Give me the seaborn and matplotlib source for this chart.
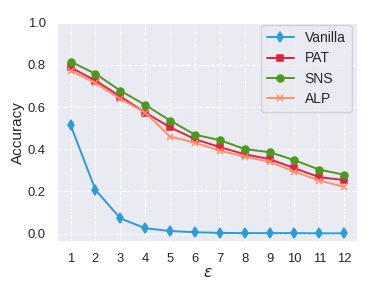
import matplotlib
matplotlib.use("Agg")
import matplotlib.pyplot as plt
import seaborn as sns

# --- data ----------------------------------------------------------------
EPS = [1, 2, 3, 4, 5, 6, 7, 8, 9, 10, 11, 12]
VANILLA = [0.515, 0.207, 0.072, 0.025, 0.012, 0.006, 0.003, 0.002, 0.002, 0.002, 0.001, 0.001]
PAT = [0.788, 0.726, 0.650, 0.574, 0.504, 0.448, 0.410, 0.376, 0.353, 0.310, 0.267, 0.254]
SNS = [0.816, 0.758, 0.678, 0.610, 0.536, 0.469, 0.443, 0.401, 0.386, 0.348, 0.303, 0.279]
ALP = [0.773, 0.714, 0.639, 0.574, 0.460, 0.431, 0.393, 0.365, 0.340, 0.294, 0.251, 0.222]

SERIES = [
    ("Vanilla", VANILLA, "#2a9dd8", "d"),
    ("PAT", PAT, "#df233f", "s"),
    ("SNS", SNS, "#4a9a1c", "o"),
    ("ALP", ALP, "#ff9068", "x"),
]

sns.set_theme(style="darkgrid", rc={"grid.linestyle": "--", "grid.linewidth": 0.8})
plt.rcParams["font.family"] = ["Liberation Sans", "DejaVu Sans"]

fig, ax = plt.subplots(figsize=(3.82, 2.85), dpi=100)
fig.subplots_adjust(left=0.149, right=0.937, top=0.920, bottom=0.151)

for name, vals, color, marker in SERIES:
    sns.lineplot(x=EPS, y=vals, label=name, color=color, marker=marker,
                 markersize=5, markeredgewidth=1.1, markeredgecolor=color,
                 linewidth=1.4, ax=ax)

ax.set_xticks(EPS)
ax.set_yticks([0.0, 0.2, 0.4, 0.6, 0.8, 1.0])
ax.set_ylim(-0.04, 1.0)
ax.set_xlim(0.45, 12.55)
ax.tick_params(labelsize=9.4, pad=2)
ax.set_xlabel(r"$\epsilon$", fontsize=11, labelpad=1)
ax.set_ylabel("Accuracy", fontsize=11, labelpad=2)

ax.legend(fontsize=10, loc="upper right", bbox_to_anchor=(0.98, 0.99),
          borderaxespad=0, handlelength=1.9, borderpad=0.45, labelspacing=0.45)

fig.savefig("out.png", dpi=100)
